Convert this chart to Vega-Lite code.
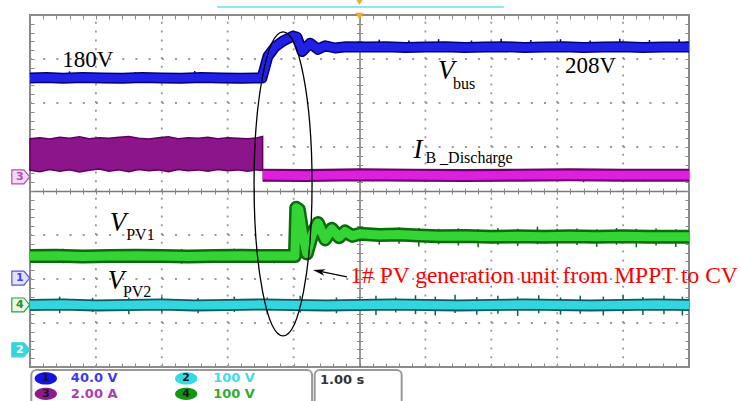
{
  "$schema": "https://vega.github.io/schema/vega-lite/v6.json",
  "width": 659,
  "height": 352,
  "autosize": {"type": "none"},
  "padding": {"left": 30, "top": 15, "right": 52, "bottom": 34},
  "background": "white",
  "config": {
    "view": {"stroke": "#8a8a8a", "strokeWidth": 2},
    "axis": {"labels": false, "domain": false, "grid": false, "ticks": true, "tickColor": "#8a8a8a", "tickWidth": 1}
  },
  "resolve": {
    "axis": {"x": "independent", "y": "independent"},
    "scale": {"color": "independent", "strokeWidth": "independent", "fill": "independent", "stroke": "independent"}
  },
  "datasets": {
    "traces": [
      {"ch": "1", "t": 0, "v": 6.57}, {"ch": "1", "t": 0.25, "v": 6.58}, {"ch": "1", "t": 0.5, "v": 6.56}, {"ch": "1", "t": 0.8, "v": 6.58},
      {"ch": "1", "t": 1.1, "v": 6.57}, {"ch": "1", "t": 1.4, "v": 6.56}, {"ch": "1", "t": 1.7, "v": 6.58}, {"ch": "1", "t": 2.0, "v": 6.57},
      {"ch": "1", "t": 2.3, "v": 6.56}, {"ch": "1", "t": 2.6, "v": 6.58}, {"ch": "1", "t": 2.9, "v": 6.57}, {"ch": "1", "t": 3.2, "v": 6.56},
      {"ch": "1", "t": 3.52, "v": 6.57}, {"ch": "1", "t": 3.61, "v": 7.06}, {"ch": "1", "t": 3.72, "v": 7.28}, {"ch": "1", "t": 3.84, "v": 7.41},
      {"ch": "1", "t": 3.99, "v": 7.52}, {"ch": "1", "t": 4.05, "v": 7.5}, {"ch": "1", "t": 4.13, "v": 7.17}, {"ch": "1", "t": 4.25, "v": 7.36},
      {"ch": "1", "t": 4.37, "v": 7.22}, {"ch": "1", "t": 4.48, "v": 7.3}, {"ch": "1", "t": 4.63, "v": 7.25}, {"ch": "1", "t": 4.8, "v": 7.28},
      {"ch": "1", "t": 5.1, "v": 7.27}, {"ch": "1", "t": 5.4, "v": 7.28}, {"ch": "1", "t": 5.7, "v": 7.26}, {"ch": "1", "t": 6.0, "v": 7.27},
      {"ch": "1", "t": 6.3, "v": 7.28}, {"ch": "1", "t": 6.6, "v": 7.26}, {"ch": "1", "t": 6.9, "v": 7.27}, {"ch": "1", "t": 7.2, "v": 7.28},
      {"ch": "1", "t": 7.5, "v": 7.26}, {"ch": "1", "t": 7.8, "v": 7.27}, {"ch": "1", "t": 8.1, "v": 7.28}, {"ch": "1", "t": 8.4, "v": 7.26},
      {"ch": "1", "t": 8.7, "v": 7.27}, {"ch": "1", "t": 9.0, "v": 7.28}, {"ch": "1", "t": 9.3, "v": 7.26}, {"ch": "1", "t": 9.6, "v": 7.27},
      {"ch": "1", "t": 10, "v": 7.27},
      {"ch": "3", "t": 3.53, "v": 4.36}, {"ch": "3", "t": 4.2, "v": 4.35}, {"ch": "3", "t": 5.0, "v": 4.37}, {"ch": "3", "t": 5.8, "v": 4.36},
      {"ch": "3", "t": 6.6, "v": 4.35}, {"ch": "3", "t": 7.4, "v": 4.36}, {"ch": "3", "t": 8.2, "v": 4.37}, {"ch": "3", "t": 9.0, "v": 4.36},
      {"ch": "3", "t": 10, "v": 4.36},
      {"ch": "4", "t": 0, "v": 2.52}, {"ch": "4", "t": 0.4, "v": 2.53}, {"ch": "4", "t": 0.8, "v": 2.51}, {"ch": "4", "t": 1.2, "v": 2.52},
      {"ch": "4", "t": 1.6, "v": 2.53}, {"ch": "4", "t": 2.0, "v": 2.52}, {"ch": "4", "t": 2.4, "v": 2.51}, {"ch": "4", "t": 2.8, "v": 2.52},
      {"ch": "4", "t": 3.2, "v": 2.53}, {"ch": "4", "t": 3.6, "v": 2.52}, {"ch": "4", "t": 4.02, "v": 2.52}, {"ch": "4", "t": 4.04, "v": 3.62},
      {"ch": "4", "t": 4.08, "v": 3.58}, {"ch": "4", "t": 4.14, "v": 3.0}, {"ch": "4", "t": 4.2, "v": 2.58}, {"ch": "4", "t": 4.28, "v": 3.0},
      {"ch": "4", "t": 4.37, "v": 3.27}, {"ch": "4", "t": 4.48, "v": 2.9}, {"ch": "4", "t": 4.58, "v": 3.14}, {"ch": "4", "t": 4.69, "v": 2.95},
      {"ch": "4", "t": 4.78, "v": 3.08}, {"ch": "4", "t": 4.89, "v": 2.98}, {"ch": "4", "t": 5.01, "v": 3.03}, {"ch": "4", "t": 5.3, "v": 3.0},
      {"ch": "4", "t": 5.6, "v": 3.01}, {"ch": "4", "t": 5.9, "v": 2.99}, {"ch": "4", "t": 6.2, "v": 2.97}, {"ch": "4", "t": 6.6, "v": 2.98},
      {"ch": "4", "t": 7.0, "v": 2.96}, {"ch": "4", "t": 7.4, "v": 2.97}, {"ch": "4", "t": 7.8, "v": 2.96}, {"ch": "4", "t": 8.2, "v": 2.97},
      {"ch": "4", "t": 8.6, "v": 2.96}, {"ch": "4", "t": 9.0, "v": 2.97}, {"ch": "4", "t": 9.4, "v": 2.96}, {"ch": "4", "t": 10, "v": 2.96},
      {"ch": "2", "t": 0, "v": 1.41}, {"ch": "2", "t": 0.5, "v": 1.42}, {"ch": "2", "t": 1.0, "v": 1.4}, {"ch": "2", "t": 1.5, "v": 1.41},
      {"ch": "2", "t": 2.0, "v": 1.42}, {"ch": "2", "t": 2.5, "v": 1.4}, {"ch": "2", "t": 3.0, "v": 1.41}, {"ch": "2", "t": 3.5, "v": 1.42},
      {"ch": "2", "t": 4.0, "v": 1.41}, {"ch": "2", "t": 4.5, "v": 1.4}, {"ch": "2", "t": 5.0, "v": 1.41}, {"ch": "2", "t": 5.5, "v": 1.42},
      {"ch": "2", "t": 6.0, "v": 1.41}, {"ch": "2", "t": 6.5, "v": 1.4}, {"ch": "2", "t": 7.0, "v": 1.41}, {"ch": "2", "t": 7.5, "v": 1.42},
      {"ch": "2", "t": 8.0, "v": 1.41}, {"ch": "2", "t": 8.5, "v": 1.4}, {"ch": "2", "t": 9.0, "v": 1.41}, {"ch": "2", "t": 9.5, "v": 1.42},
      {"ch": "2", "t": 10, "v": 1.41}
    ],
    "band": [
      {"t": 0, "lo": 4.47, "hi": 5.19}, {"t": 0.15, "lo": 4.44, "hi": 5.21}, {"t": 0.3, "lo": 4.49, "hi": 5.18},
      {"t": 0.45, "lo": 4.45, "hi": 5.22}, {"t": 0.6, "lo": 4.48, "hi": 5.2}, {"t": 0.75, "lo": 4.43, "hi": 5.23},
      {"t": 0.9, "lo": 4.47, "hi": 5.19}, {"t": 1.05, "lo": 4.5, "hi": 5.21}, {"t": 1.2, "lo": 4.45, "hi": 5.2},
      {"t": 1.35, "lo": 4.48, "hi": 5.22}, {"t": 1.5, "lo": 4.44, "hi": 5.24}, {"t": 1.65, "lo": 4.49, "hi": 5.2},
      {"t": 1.8, "lo": 4.46, "hi": 5.18}, {"t": 1.95, "lo": 4.48, "hi": 5.21}, {"t": 2.1, "lo": 4.44, "hi": 5.23},
      {"t": 2.25, "lo": 4.49, "hi": 5.19}, {"t": 2.4, "lo": 4.46, "hi": 5.21}, {"t": 2.55, "lo": 4.48, "hi": 5.2},
      {"t": 2.7, "lo": 4.45, "hi": 5.22}, {"t": 2.85, "lo": 4.49, "hi": 5.19}, {"t": 3.0, "lo": 4.46, "hi": 5.21},
      {"t": 3.15, "lo": 4.48, "hi": 5.2}, {"t": 3.3, "lo": 4.45, "hi": 5.19}, {"t": 3.45, "lo": 4.48, "hi": 5.21},
      {"t": 3.53, "lo": 4.47, "hi": 5.24}
    ],
    "spikes": [
      {"ch": "2", "t": 0.45, "v": 1.22, "v2": 1.6}, {"ch": "2", "t": 0.95, "v": 1.25, "v2": 1.57}, {"ch": "2", "t": 1.5, "v": 1.2, "v2": 1.58},
      {"ch": "2", "t": 2.0, "v": 1.24, "v2": 1.6}, {"ch": "2", "t": 2.55, "v": 1.22, "v2": 1.57}, {"ch": "2", "t": 3.1, "v": 1.25, "v2": 1.6},
      {"ch": "2", "t": 3.6, "v": 1.2, "v2": 1.58}, {"ch": "2", "t": 4.1, "v": 1.24, "v2": 1.62}, {"ch": "2", "t": 4.65, "v": 1.22, "v2": 1.58},
      {"ch": "2", "t": 5.25, "v": 1.18, "v2": 1.62}, {"ch": "2", "t": 5.55, "v": 1.24, "v2": 1.58}, {"ch": "2", "t": 5.85, "v": 1.2, "v2": 1.63},
      {"ch": "2", "t": 6.15, "v": 1.17, "v2": 1.6}, {"ch": "2", "t": 6.45, "v": 1.23, "v2": 1.64}, {"ch": "2", "t": 6.78, "v": 1.19, "v2": 1.59},
      {"ch": "2", "t": 7.1, "v": 1.21, "v2": 1.62}, {"ch": "2", "t": 7.4, "v": 1.16, "v2": 1.6}, {"ch": "2", "t": 7.72, "v": 1.22, "v2": 1.63},
      {"ch": "2", "t": 8.05, "v": 1.19, "v2": 1.58}, {"ch": "2", "t": 8.35, "v": 1.21, "v2": 1.62}, {"ch": "2", "t": 8.7, "v": 1.17, "v2": 1.6},
      {"ch": "2", "t": 9.0, "v": 1.22, "v2": 1.63}, {"ch": "2", "t": 9.3, "v": 1.18, "v2": 1.59}, {"ch": "2", "t": 9.62, "v": 1.2, "v2": 1.62},
      {"ch": "2", "t": 9.9, "v": 1.17, "v2": 1.6},
      {"ch": "4", "t": 0.5, "v": 2.36, "v2": 2.69}, {"ch": "4", "t": 1.5, "v": 2.38, "v2": 2.68}, {"ch": "4", "t": 2.3, "v": 2.35, "v2": 2.68},
      {"ch": "4", "t": 3.1, "v": 2.38, "v2": 2.69}, {"ch": "4", "t": 3.7, "v": 2.36, "v2": 2.68},
      {"ch": "4", "t": 5.3, "v": 2.78, "v2": 3.15}, {"ch": "4", "t": 5.6, "v": 2.8, "v2": 3.17}, {"ch": "4", "t": 5.9, "v": 2.74, "v2": 3.16},
      {"ch": "4", "t": 6.2, "v": 2.79, "v2": 3.14}, {"ch": "4", "t": 6.5, "v": 2.76, "v2": 3.15}, {"ch": "4", "t": 6.8, "v": 2.72, "v2": 3.13},
      {"ch": "4", "t": 7.1, "v": 2.78, "v2": 3.16}, {"ch": "4", "t": 7.4, "v": 2.75, "v2": 3.14}, {"ch": "4", "t": 7.7, "v": 2.79, "v2": 3.19},
      {"ch": "4", "t": 8.0, "v": 2.74, "v2": 3.14}, {"ch": "4", "t": 8.3, "v": 2.77, "v2": 3.15}, {"ch": "4", "t": 8.6, "v": 2.73, "v2": 3.13},
      {"ch": "4", "t": 8.9, "v": 2.78, "v2": 3.16}, {"ch": "4", "t": 9.2, "v": 2.72, "v2": 3.14}, {"ch": "4", "t": 9.5, "v": 2.76, "v2": 3.15},
      {"ch": "4", "t": 9.8, "v": 2.73, "v2": 3.13},
      {"ch": "1", "t": 0.6, "v": 6.48, "v2": 6.72}, {"ch": "1", "t": 1.6, "v": 6.46, "v2": 6.7}, {"ch": "1", "t": 2.5, "v": 6.48, "v2": 6.73},
      {"ch": "1", "t": 5.3, "v": 7.18, "v2": 7.44}, {"ch": "1", "t": 5.75, "v": 7.18, "v2": 7.42}, {"ch": "1", "t": 6.2, "v": 7.17, "v2": 7.45},
      {"ch": "1", "t": 6.7, "v": 7.18, "v2": 7.42}, {"ch": "1", "t": 7.15, "v": 7.16, "v2": 7.46}, {"ch": "1", "t": 7.6, "v": 7.18, "v2": 7.43},
      {"ch": "1", "t": 8.05, "v": 7.17, "v2": 7.45}, {"ch": "1", "t": 8.5, "v": 7.18, "v2": 7.42}, {"ch": "1", "t": 8.95, "v": 7.16, "v2": 7.46},
      {"ch": "1", "t": 9.4, "v": 7.18, "v2": 7.43}, {"ch": "1", "t": 9.85, "v": 7.17, "v2": 7.45},
      {"ch": "3", "t": 5.2, "v": 4.22, "v2": 4.4}, {"ch": "3", "t": 6.3, "v": 4.21, "v2": 4.4}, {"ch": "3", "t": 7.5, "v": 4.22, "v2": 4.41},
      {"ch": "3", "t": 8.4, "v": 4.2, "v2": 4.4}, {"ch": "3", "t": 9.3, "v": 4.22, "v2": 4.4}
    ]
  },
  "layer": [
    {
      "data": {"values": [{"t": 1}, {"t": 2}, {"t": 3}, {"t": 4}, {"t": 6}, {"t": 7}, {"t": 8}, {"t": 9}]},
      "mark": {"type": "rule", "color": "#999999", "strokeWidth": 1.8, "strokeDash": [2, 6.8]},
      "encoding": {
        "x": {"field": "t", "type": "quantitative", "scale": {"domain": [0, 10], "nice": false, "zero": false},
              "axis": {"orient": "bottom", "title": null, "tickSize": -4, "values": [0,0.2,0.4,0.6,0.8,1,1.2,1.4,1.6,1.8,2,2.2,2.4,2.6,2.8,3,3.2,3.4,3.6,3.8,4,4.2,4.4,4.6,4.8,5,5.2,5.4,5.6,5.8,6,6.2,6.4,6.6,6.8,7,7.2,7.4,7.6,7.8,8,8.2,8.4,8.6,8.8,9,9.2,9.4,9.6,9.8,10]}},
        "y": {"datum": 0, "type": "quantitative", "scale": {"domain": [0, 8], "nice": false, "zero": false}, "axis": null},
        "y2": {"datum": 8}
      }
    },
    {
      "data": {"values": [{"v": 1}, {"v": 2}, {"v": 3}, {"v": 5}, {"v": 6}, {"v": 7}]},
      "mark": {"type": "rule", "color": "#999999", "strokeWidth": 1.8, "strokeDash": [2, 11.18]},
      "encoding": {
        "y": {"field": "v", "type": "quantitative", "scale": {"domain": [0, 8], "nice": false, "zero": false},
              "axis": {"orient": "left", "title": null, "tickSize": -4, "values": [0,0.2,0.4,0.6,0.8,1,1.2,1.4,1.6,1.8,2,2.2,2.4,2.6,2.8,3,3.2,3.4,3.6,3.8,4,4.2,4.4,4.6,4.8,5,5.2,5.4,5.6,5.8,6,6.2,6.4,6.6,6.8,7,7.2,7.4,7.6,7.8,8]}},
        "x": {"datum": 0, "type": "quantitative", "scale": {"domain": [0, 10], "nice": false, "zero": false}, "axis": null},
        "x2": {"datum": 10}
      }
    },
    {
      "data": {"name": "band"},
      "mark": {"type": "area", "fill": "#8c158c", "stroke": "#5e005e", "strokeWidth": 1.5},
      "encoding": {
        "x": {"field": "t", "type": "quantitative", "scale": {"domain": [0, 10], "nice": false, "zero": false}, "axis": null},
        "y": {"field": "lo", "type": "quantitative", "scale": {"domain": [0, 8], "nice": false, "zero": false}, "axis": null},
        "y2": {"field": "hi"}
      }
    },
    {
      "data": {"name": "traces"},
      "mark": {"type": "line", "strokeCap": "butt", "strokeJoin": "round"},
      "encoding": {
        "x": {"field": "t", "type": "quantitative", "scale": {"domain": [0, 10], "nice": false, "zero": false},
              "axis": {"orient": "top", "title": null, "tickSize": -4, "values": [0,0.2,0.4,0.6,0.8,1,1.2,1.4,1.6,1.8,2,2.2,2.4,2.6,2.8,3,3.2,3.4,3.6,3.8,4,4.2,4.4,4.6,4.8,5,5.2,5.4,5.6,5.8,6,6.2,6.4,6.6,6.8,7,7.2,7.4,7.6,7.8,8,8.2,8.4,8.6,8.8,9,9.2,9.4,9.6,9.8,10]}},
        "y": {"field": "v", "type": "quantitative", "scale": {"domain": [0, 8], "nice": false, "zero": false},
              "axis": {"orient": "right", "title": null, "tickSize": -4, "values": [0,0.2,0.4,0.6,0.8,1,1.2,1.4,1.6,1.8,2,2.2,2.4,2.6,2.8,3,3.2,3.4,3.6,3.8,4,4.2,4.4,4.6,4.8,5,5.2,5.4,5.6,5.8,6,6.2,6.4,6.6,6.8,7,7.2,7.4,7.6,7.8,8]}},
        "color": {"field": "ch", "type": "nominal", "scale": {"domain": ["1", "2", "3", "4"], "range": ["#00007a", "#0b5c60", "#6a006a", "#0b6a0b"]}, "legend": null},
        "strokeWidth": {"field": "ch", "type": "nominal", "scale": {"domain": ["1", "2", "3", "4"], "range": [11, 14, 10, 12]}, "legend": null}
      }
    },
    {
      "data": {"name": "spikes"},
      "mark": {"type": "rule", "strokeWidth": 1.5},
      "encoding": {
        "x": {"field": "t", "type": "quantitative", "scale": {"domain": [0, 10], "nice": false, "zero": false},
              "axis": {"orient": "bottom", "title": null, "offset": -176, "domain": true, "domainColor": "#7a7a7a", "domainWidth": 1.5, "tickSize": 3, "values": [0.2,0.4,0.6,0.8,1,1.2,1.4,1.6,1.8,2,2.2,2.4,2.6,2.8,3,3.2,3.4,3.6,3.8,4,4.2,4.4,4.6,4.8,5,5.2,5.4,5.6,5.8,6,6.2,6.4,6.6,6.8,7,7.2,7.4,7.6,7.8,8,8.2,8.4,8.6,8.8,9,9.2,9.4,9.6,9.8]}},
        "y": {"field": "v", "type": "quantitative", "scale": {"domain": [0, 8], "nice": false, "zero": false},
              "axis": {"orient": "left", "title": null, "offset": -329.5, "domain": true, "domainColor": "#7a7a7a", "domainWidth": 1.5, "tickSize": 3, "values": [0.2,0.4,0.6,0.8,1,1.2,1.4,1.6,1.8,2,2.2,2.4,2.6,2.8,3,3.2,3.4,3.6,3.8,4,4.2,4.4,4.6,4.8,5,5.2,5.4,5.6,5.8,6,6.2,6.4,6.6,6.8,7,7.2,7.4,7.6,7.8]}},
        "y2": {"field": "v2"},
        "color": {"field": "ch", "type": "nominal", "scale": {"domain": ["1", "2", "3", "4"], "range": ["#00007a", "#0b5c60", "#6a006a", "#0b6a0b"]}, "legend": null}
      }
    },
    {
      "data": {"name": "traces"},
      "mark": {"type": "line", "strokeCap": "butt", "strokeJoin": "round"},
      "encoding": {
        "x": {"field": "t", "type": "quantitative", "scale": {"domain": [0, 10], "nice": false, "zero": false}, "axis": null},
        "y": {"field": "v", "type": "quantitative", "scale": {"domain": [0, 8], "nice": false, "zero": false}, "axis": null},
        "color": {"field": "ch", "type": "nominal", "scale": {"domain": ["1", "2", "3", "4"], "range": ["#2121e6", "#33d6de", "#e01ee0", "#33d433"]}, "legend": null},
        "strokeWidth": {"field": "ch", "type": "nominal", "scale": {"domain": ["1", "2", "3", "4"], "range": [8, 9, 5, 8]}, "legend": null}
      }
    },
    {
      "data": {"values": [{"t": 0.49, "v": 6.98, "txt": "180V"}, {"t": 8.12, "v": 6.83, "txt": "208V"}]},
      "mark": {"type": "text", "font": "Liberation Serif", "fontSize": 23, "align": "left", "baseline": "middle", "color": "#000000"},
      "encoding": {
        "x": {"field": "t", "type": "quantitative", "scale": {"domain": [0, 10], "nice": false, "zero": false},
              "axis": {"orient": "bottom", "title": null, "offset": -176, "tickSize": -3, "values": [0.2,0.4,0.6,0.8,1,1.2,1.4,1.6,1.8,2,2.2,2.4,2.6,2.8,3,3.2,3.4,3.6,3.8,4,4.2,4.4,4.6,4.8,5,5.2,5.4,5.6,5.8,6,6.2,6.4,6.6,6.8,7,7.2,7.4,7.6,7.8,8,8.2,8.4,8.6,8.8,9,9.2,9.4,9.6,9.8]}},
        "y": {"field": "v", "type": "quantitative", "scale": {"domain": [0, 8], "nice": false, "zero": false},
              "axis": {"orient": "left", "title": null, "offset": -329.5, "tickSize": -3, "values": [0.2,0.4,0.6,0.8,1,1.2,1.4,1.6,1.8,2,2.2,2.4,2.6,2.8,3,3.2,3.4,3.6,3.8,4,4.2,4.4,4.6,4.8,5,5.2,5.4,5.6,5.8,6,6.2,6.4,6.6,6.8,7,7.2,7.4,7.6,7.8]}},
        "text": {"field": "txt"}
      }
    },
    {
      "data": {"values": [{"t": 6.19, "v": 6.72, "txt": "V"}, {"t": 5.82, "v": 4.93, "txt": "I"}, {"t": 1.21, "v": 3.28, "txt": "V"}, {"t": 1.18, "v": 1.95, "txt": "V"}]},
      "mark": {"type": "text", "font": "Liberation Serif", "fontStyle": "italic", "fontSize": 27, "align": "left", "baseline": "middle", "color": "#000000"},
      "encoding": {
        "x": {"field": "t", "type": "quantitative", "scale": {"domain": [0, 10], "nice": false, "zero": false}, "axis": null},
        "y": {"field": "v", "type": "quantitative", "scale": {"domain": [0, 8], "nice": false, "zero": false}, "axis": null},
        "text": {"field": "txt"}
      }
    },
    {
      "data": {"values": [{"t": 6.42, "v": 6.43, "txt": "bus"}, {"t": 6.0, "v": 4.74, "txt": "B _Discharge"}, {"t": 1.46, "v": 3.0, "txt": "PV1"}, {"t": 1.41, "v": 1.7, "txt": "PV2"}]},
      "mark": {"type": "text", "font": "Liberation Serif", "fontSize": 16, "align": "left", "baseline": "middle", "color": "#000000"},
      "encoding": {
        "x": {"field": "t", "type": "quantitative", "scale": {"domain": [0, 10], "nice": false, "zero": false}, "axis": null},
        "y": {"field": "v", "type": "quantitative", "scale": {"domain": [0, 8], "nice": false, "zero": false}, "axis": null},
        "text": {"field": "txt"}
      }
    },
    {
      "data": {"values": [{"t": 4.86, "v": 2.06, "txt": "1# PV generation unit from MPPT to CV"}]},
      "mark": {"type": "text", "font": "Liberation Serif", "fontSize": 23.5, "align": "left", "baseline": "middle", "color": "#ff0000"},
      "encoding": {
        "x": {"field": "t", "type": "quantitative", "scale": {"domain": [0, 10], "nice": false, "zero": false}, "axis": null},
        "y": {"field": "v", "type": "quantitative", "scale": {"domain": [0, 8], "nice": false, "zero": false}, "axis": null},
        "text": {"field": "txt"}
      }
    },
    {
      "data": {"values": [{"t": 4.81, "v": 2.05, "t2": 4.385, "v2": 2.177}]},
      "mark": {"type": "rule", "color": "#000000", "strokeWidth": 1.3},
      "encoding": {
        "x": {"field": "t", "type": "quantitative", "scale": {"domain": [0, 10], "nice": false, "zero": false}, "axis": null},
        "y": {"field": "v", "type": "quantitative", "scale": {"domain": [0, 8], "nice": false, "zero": false}, "axis": null},
        "x2": {"field": "t2"},
        "y2": {"field": "v2"}
      }
    },
    {
      "data": {"values": [{"t": 4.385, "v": 2.177}]},
      "mark": {"type": "point", "shape": "M-1,0 L1,-0.55 L0.45,0 L1,0.55 Z", "size": 150, "angle": 11.6, "filled": true, "color": "#000000", "opacity": 1},
      "encoding": {
        "x": {"field": "t", "type": "quantitative", "scale": {"domain": [0, 10], "nice": false, "zero": false}, "axis": null},
        "y": {"field": "v", "type": "quantitative", "scale": {"domain": [0, 8], "nice": false, "zero": false}, "axis": null}
      }
    },
    {
      "data": {"values": [{"t": 3.84, "v": 4.16}]},
      "mark": {"type": "point", "shape": "M0,-1 C0.1054,-1 0.1908,-0.5523 0.1908,0 C0.1908,0.5523 0.1054,1 0,1 C-0.1054,1 -0.1908,0.5523 -0.1908,0 C-0.1908,-0.5523 -0.1054,-1 0,-1 Z", "size": 92416, "filled": false, "stroke": "#000000", "strokeWidth": 1.3, "opacity": 1},
      "encoding": {
        "x": {"field": "t", "type": "quantitative", "scale": {"domain": [0, 10], "nice": false, "zero": false}, "axis": null},
        "y": {"field": "v", "type": "quantitative", "scale": {"domain": [0, 8], "nice": false, "zero": false}, "axis": null}
      }
    },
    {
      "data": {"values": [{"t": 2.84, "v": 8.18, "t2": 7.19}]},
      "mark": {"type": "rule", "color": "#8ee8f0", "strokeWidth": 2},
      "encoding": {
        "x": {"field": "t", "type": "quantitative", "scale": {"domain": [0, 10], "nice": false, "zero": false}, "axis": null},
        "y": {"field": "v", "type": "quantitative", "scale": {"domain": [0, 8], "nice": false, "zero": false}, "axis": null},
        "x2": {"field": "t2"}
      }
    },
    {
      "data": {"values": [{"t": 5.0, "v": 7.97}, {"t": 5.0, "v": 8.31}]},
      "mark": {"type": "point", "shape": "triangle-down", "size": 70, "filled": true, "color": "#f5a623", "opacity": 1},
      "encoding": {
        "x": {"field": "t", "type": "quantitative", "scale": {"domain": [0, 10], "nice": false, "zero": false}, "axis": null},
        "y": {"field": "v", "type": "quantitative", "scale": {"domain": [0, 8], "nice": false, "zero": false}, "axis": null}
      }
    },
    {
      "data": {"values": [{"ch": "3", "t": -0.14, "v": 4.32}, {"ch": "1", "t": -0.14, "v": 2.02}, {"ch": "4", "t": -0.14, "v": 1.41}, {"ch": "2", "t": -0.14, "v": 0.39}]},
      "mark": {"type": "point", "shape": "M-1,-0.78 L0.35,-0.78 L1,0 L0.35,0.78 L-1,0.78 Z", "size": 320, "filled": true, "strokeWidth": 1.2, "opacity": 1},
      "encoding": {
        "x": {"field": "t", "type": "quantitative", "scale": {"domain": [0, 10], "nice": false, "zero": false}, "axis": null},
        "y": {"field": "v", "type": "quantitative", "scale": {"domain": [0, 8], "nice": false, "zero": false}, "axis": null},
        "fill": {"field": "ch", "type": "nominal", "scale": {"domain": ["1", "2", "3", "4"], "range": ["#e2e2ff", "#33d6de", "#f5d8f5", "#eaf7ea"]}, "legend": null},
        "stroke": {"field": "ch", "type": "nominal", "scale": {"domain": ["1", "2", "3", "4"], "range": ["#5555e0", "#33d6de", "#b050b0", "#33a033"]}, "legend": null}
      }
    },
    {
      "data": {"values": [{"ch": "3", "t": -0.155, "v": 4.32}, {"ch": "1", "t": -0.155, "v": 2.02}, {"ch": "4", "t": -0.155, "v": 1.41}, {"ch": "2", "t": -0.155, "v": 0.39}]},
      "mark": {"type": "text", "font": "DejaVu Sans", "fontWeight": "bold", "fontSize": 11, "align": "center", "baseline": "middle"},
      "encoding": {
        "x": {"field": "t", "type": "quantitative", "scale": {"domain": [0, 10], "nice": false, "zero": false}, "axis": null},
        "y": {"field": "v", "type": "quantitative", "scale": {"domain": [0, 8], "nice": false, "zero": false}, "axis": null},
        "text": {"field": "ch"},
        "color": {"field": "ch", "type": "nominal", "scale": {"domain": ["1", "2", "3", "4"], "range": ["#4444dd", "#ffffff", "#b050b0", "#2a902a"]}, "legend": null}
      }
    },
    {
      "data": {"values": [{"t": 0.02, "t2": 4.28, "v": -0.07, "v2": -0.95}, {"t": 4.32, "t2": 5.64, "v": -0.07, "v2": -0.95}]},
      "mark": {"type": "rect", "fill": "#ffffff", "stroke": "#9a9a9a", "strokeWidth": 2, "cornerRadius": 5},
      "encoding": {
        "x": {"field": "t", "type": "quantitative", "scale": {"domain": [0, 10], "nice": false, "zero": false}, "axis": null},
        "y": {"field": "v", "type": "quantitative", "scale": {"domain": [0, 8], "nice": false, "zero": false}, "axis": null},
        "x2": {"field": "t2"},
        "y2": {"field": "v2"}
      }
    },
    {
      "data": {"values": [{"ch": "1", "t": 0.24, "v": -0.26}, {"ch": "3", "t": 0.24, "v": -0.61}, {"ch": "2", "t": 2.37, "v": -0.26}, {"ch": "4", "t": 2.37, "v": -0.61}]},
      "mark": {"type": "point", "shape": "M0,-0.55 C0.552,-0.55 1,-0.304 1,0 C1,0.304 0.552,0.55 0,0.55 C-0.552,0.55 -1,0.304 -1,0 C-1,-0.304 -0.552,-0.55 0,-0.55 Z", "size": 500, "filled": true, "opacity": 1},
      "encoding": {
        "x": {"field": "t", "type": "quantitative", "scale": {"domain": [0, 10], "nice": false, "zero": false}, "axis": null},
        "y": {"field": "v", "type": "quantitative", "scale": {"domain": [0, 8], "nice": false, "zero": false}, "axis": null},
        "color": {"field": "ch", "type": "nominal", "scale": {"domain": ["1", "2", "3", "4"], "range": ["#1414e8", "#33dce4", "#8e1a8e", "#129612"]}, "legend": null}
      }
    },
    {
      "data": {"values": [{"ch": "1", "t": 0.24, "v": -0.26}, {"ch": "3", "t": 0.24, "v": -0.61}, {"ch": "2", "t": 2.37, "v": -0.26}, {"ch": "4", "t": 2.37, "v": -0.61}]},
      "mark": {"type": "text", "font": "DejaVu Sans", "fontWeight": "bold", "fontSize": 11, "align": "center", "baseline": "middle", "color": "#16162a"},
      "encoding": {
        "x": {"field": "t", "type": "quantitative", "scale": {"domain": [0, 10], "nice": false, "zero": false}, "axis": null},
        "y": {"field": "v", "type": "quantitative", "scale": {"domain": [0, 8], "nice": false, "zero": false}, "axis": null},
        "text": {"field": "ch"}
      }
    },
    {
      "data": {"values": [{"ch": "1", "t": 0.62, "v": -0.26, "txt": "40.0 V"}, {"ch": "3", "t": 0.62, "v": -0.61, "txt": "2.00 A"}, {"ch": "2", "t": 2.78, "v": -0.26, "txt": "100 V"}, {"ch": "4", "t": 2.78, "v": -0.61, "txt": "100 V"}]},
      "mark": {"type": "text", "font": "DejaVu Sans", "fontWeight": "bold", "fontSize": 13, "align": "left", "baseline": "middle"},
      "encoding": {
        "x": {"field": "t", "type": "quantitative", "scale": {"domain": [0, 10], "nice": false, "zero": false}, "axis": null},
        "y": {"field": "v", "type": "quantitative", "scale": {"domain": [0, 8], "nice": false, "zero": false}, "axis": null},
        "text": {"field": "txt"},
        "color": {"field": "ch", "type": "nominal", "scale": {"domain": ["1", "2", "3", "4"], "range": ["#3b3bf0", "#40dbe8", "#b03cb0", "#33a833"]}, "legend": null}
      }
    },
    {
      "data": {"values": [{"t": 4.4, "v": -0.29, "txt": "1.00 s"}]},
      "mark": {"type": "text", "font": "DejaVu Sans", "fontWeight": "bold", "fontSize": 13, "align": "left", "baseline": "middle", "color": "#333333"},
      "encoding": {
        "x": {"field": "t", "type": "quantitative", "scale": {"domain": [0, 10], "nice": false, "zero": false}, "axis": null},
        "y": {"field": "v", "type": "quantitative", "scale": {"domain": [0, 8], "nice": false, "zero": false}, "axis": null},
        "text": {"field": "txt"}
      }
    }
  ]
}
